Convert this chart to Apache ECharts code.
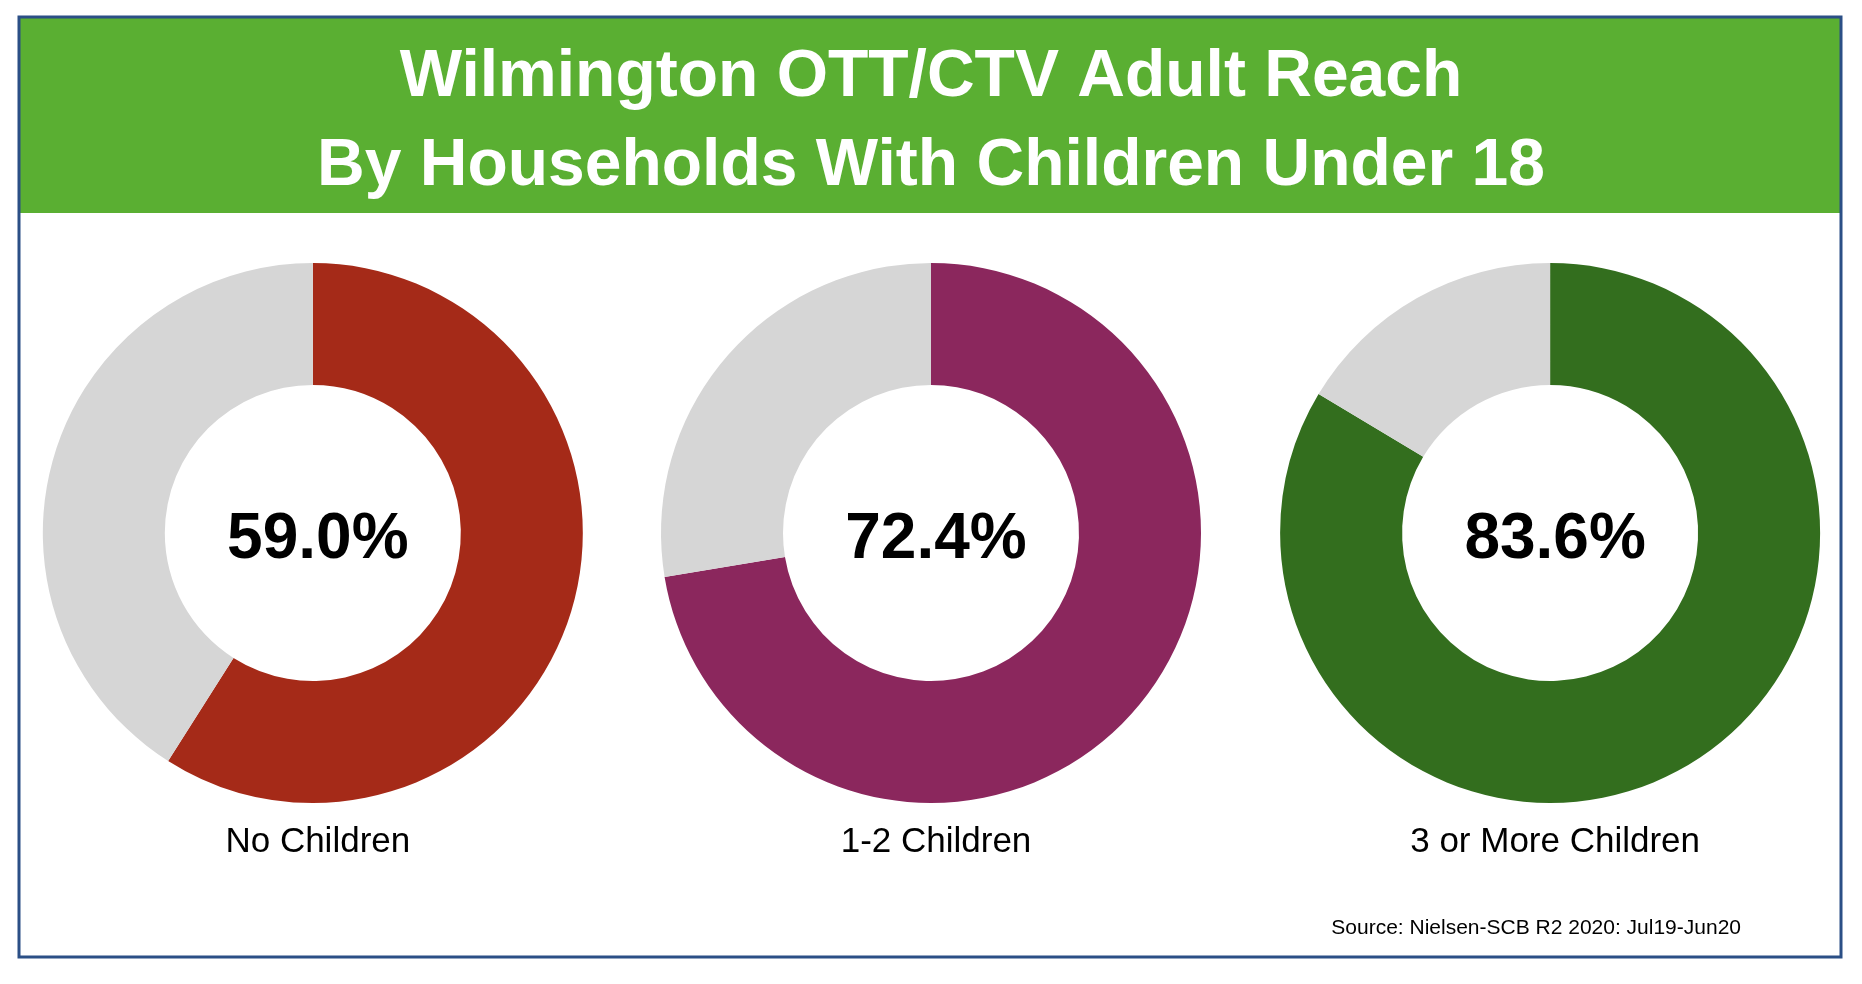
<!DOCTYPE html>
<html>
<head>
<meta charset="utf-8">
<script src="https://cdn.jsdelivr.net/npm/echarts@6/dist/echarts.min.js"></script>
<style>
  html, body { margin: 0; padding: 0; background: #fff; }
  #chart { width: 1862px; height: 984px; }
</style>
</head>
<body>
<div id="chart"></div>
<script>
const categories = ['No Children', '1-2 Children', '3 or More Children'];
const reach = [59.0, 72.4, 83.6];
const colors = ['#a52a18', '#8b275d', '#336e1e'];
const centersX = ['16.8%', '50%', '83.25%'];

const chart = echarts.init(document.getElementById('chart'));
const font = '"Liberation Sans", Arial, sans-serif';

const series = reach.map((v, i) => ({
  type: 'pie',
  radius: [148, 270],
  center: [centersX[i], 533],
  startAngle: 90,
  clockwise: true,
  silent: true,
  label: { show: false },
  labelLine: { show: false },
  data: [
    { name: categories[i], value: v, itemStyle: { color: colors[i] } },
    { name: 'rest', value: +(100 - v).toFixed(1), itemStyle: { color: '#d6d6d6' } }
  ]
}));

const titles = [
  { text: 'Wilmington OTT/CTV Adult Reach', left: 'center', top: 40,
    textStyle: { color: '#fff', fontSize: 66, fontWeight: 'bold', fontFamily: font } },
  { text: 'By Households With Children Under 18', left: 'center', top: 129,
    textStyle: { color: '#fff', fontSize: 66, fontWeight: 'bold', fontFamily: font } },
  { text: 'Source: Nielsen-SCB R2 2020: Jul19-Jun20', right: 116, top: 913,
    textStyle: { color: '#000', fontSize: 21, fontWeight: 'normal', fontFamily: font } }
];
reach.forEach((v, i) => {
  titles.push({ text: v.toFixed(1) + '%', left: centersX[i], top: 503, textAlign: 'center',
    textStyle: { color: '#000', fontSize: 64, fontWeight: 'bold', fontFamily: font } });
  titles.push({ text: categories[i], left: centersX[i], top: 820, textAlign: 'center',
    textStyle: { color: '#000', fontSize: 35, fontWeight: 'normal', fontFamily: font } });
});

chart.setOption({
  animation: false,
  backgroundColor: '#fff',
  title: titles,
  graphic: [
    { type: 'rect', shape: { x: 19, y: 17, width: 1822, height: 196 }, style: { fill: '#5aaf32' }, z: -1 },
    { type: 'rect', shape: { x: 19, y: 17, width: 1822, height: 940 },
      style: { fill: 'none', stroke: '#2b4f86', lineWidth: 3 }, z: 10 }
  ],
  series: series
});
</script>
</body>
</html>
